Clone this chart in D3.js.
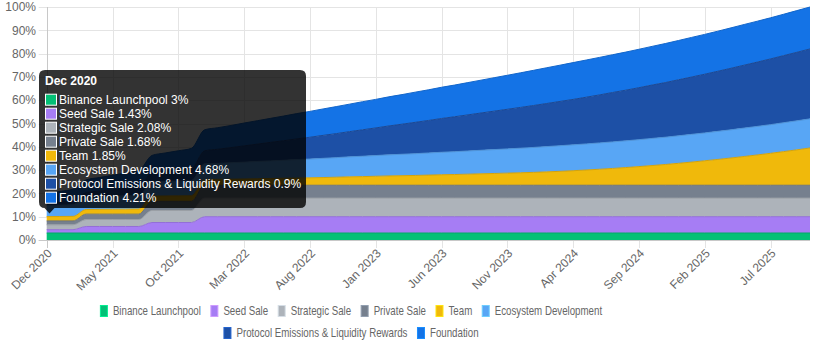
<!DOCTYPE html>
<html>
<head>
<meta charset="utf-8">
<script src="https://cdn.jsdelivr.net/npm/d3@7"></script>
<style>
  body { margin: 0; background: #fff; }
  svg { display: block; font-family: "Liberation Sans", Arial, sans-serif; }
</style>
</head>
<body>
<script>
//width and height
var w = 820;
var h = 350;

//months on the x axis (Dec 2020 .. Oct 2025)
var months = [
  "Dec 2020",
  "Jan 2021", "Feb 2021", "Mar 2021", "Apr 2021", "May 2021", "Jun 2021", "Jul 2021", "Aug 2021", "Sep 2021", "Oct 2021", "Nov 2021", "Dec 2021",
  "Jan 2022", "Feb 2022", "Mar 2022", "Apr 2022", "May 2022", "Jun 2022", "Jul 2022", "Aug 2022", "Sep 2022", "Oct 2022", "Nov 2022", "Dec 2022",
  "Jan 2023", "Feb 2023", "Mar 2023", "Apr 2023", "May 2023", "Jun 2023", "Jul 2023", "Aug 2023", "Sep 2023", "Oct 2023", "Nov 2023", "Dec 2023",
  "Jan 2024", "Feb 2024", "Mar 2024", "Apr 2024", "May 2024", "Jun 2024", "Jul 2024", "Aug 2024", "Sep 2024", "Oct 2024", "Nov 2024", "Dec 2024",
  "Jan 2025", "Feb 2025", "Mar 2025", "Apr 2025", "May 2025", "Jun 2025", "Jul 2025", "Aug 2025", "Sep 2025", "Oct 2025"
];

//tick labels shown on the x axis
var tickLabels = ["Dec 2020", "May 2021", "Oct 2021", "Mar 2022", "Aug 2022", "Jan 2023",
                  "Jun 2023", "Nov 2023", "Apr 2024", "Sep 2024", "Feb 2025", "Jul 2025"];

var yTicks = [0, 10, 20, 30, 40, 50, 60, 70, 80, 90, 100];

//series names, bottom to top
var seriesNames = ["Binance Launchpool", "Seed Sale", "Strategic Sale", "Private Sale", "Team",
                   "Ecosystem Development", "Protocol Emissions & Liquidity Rewards", "Foundation"];

var seriesColors = ["#03c076", "#a67df4", "#adb3ba", "#76808e", "#f0b90b", "#58a6f5", "#1d50a6", "#1473e6"];

//unlocked share of supply (%) per month
var launchpool = [3,3,3,3,3,3,3,3,3,3,3,3,3,3,3,3,3,3,3,3,3,3,3,3,3,3,3,3,3,3,
                  3,3,3,3,3,3,3,3,3,3,3,3,3,3,3,3,3,3,3,3,3,3,3,3,3,3,3,3,3];
var seedSale = [1.43,1.43,1.43,2.8,2.8,2.8,2.8,2.8,4.5,4.5,4.5,4.5,7,7,7,7,7,7,7,7,7,7,7,7,7,7,7,7,7,7,
                7,7,7,7,7,7,7,7,7,7,7,7,7,7,7,7,7,7,7,7,7,7,7,7,7,7,7,7,7];
var strategicSale = [2.08,2.08,2.08,3,3,3,3,3,5.2,5.2,5.2,5.2,8,8,8,8,8,8,8,8,8,8,8,8,8,8,8,8,8,8,
                     8,8,8,8,8,8,8,8,8,8,8,8,8,8,8,8,8,8,8,8,8,8,8,8,8,8,8,8,8];
var privateSale = [1.68,1.68,1.68,2.3,2.3,2.3,2.3,2.3,3.9,3.9,3.9,3.9,5.5,5.5,5.5,5.5,5.5,5.5,5.5,5.5,5.5,5.5,5.5,5.5,5.5,5.5,5.5,5.5,5.5,5.5,
                   5.5,5.5,5.5,5.5,5.5,5.5,5.5,5.5,5.5,5.5,5.5,5.5,5.5,5.5,5.5,5.5,5.5,5.5,5.5,5.5,5.5,5.5,5.5,5.5,5.5,5.5,5.5,5.5,5.5];
var team = [1.85,1.9,1.95,2,2.05,2.1,2.15,2.2,2.25,2.3,2.35,2.4,2.5,2.55,2.6,2.7,2.8,2.9,3,3.1,
            3.2,3.3,3.45,3.6,3.7,3.85,4,4.1,4.2,4.35,4.5,4.6,4.75,4.9,5.05,5.2,5.35,5.53,5.74,5.97,
            6.24,6.54,6.86,7.21,7.6,8.01,8.45,8.91,9.41,9.94,10.5,11.08,11.7,12.34,13.01,13.71,14.44,15.2,16];
var ecosystem = [4.68,4.85,5,5.2,5.35,5.5,5.7,5.85,6,6.2,6.35,6.55,6.7,6.85,7.05,7.2,7.4,7.55,7.7,7.9,
                 8.05,8.25,8.4,8.6,8.75,8.9,9.05,9.2,9.35,9.5,9.65,9.8,9.95,10.1,10.25,10.4,10.55,10.7,10.85,11,
                 11.1,11.2,11.3,11.4,11.45,11.55,11.65,11.7,11.8,11.9,11.95,12.05,12.1,12.2,12.25,12.3,12.4,12.45,12.5];
var protocol = [0.9,1.3,1.7,2.1,2.5,2.85,3.25,3.65,4.05,4.45,4.8,5.2,5.6,6.05,6.5,7,7.45,7.95,8.4,8.9,
                9.35,9.85,10.3,10.8,11.35,11.85,12.4,12.9,13.45,13.95,14.5,15,15.5,16,16.5,17,17.5,18,18.5,19,
                19.5,20.05,20.6,21.2,21.75,22.3,22.9,23.45,24.05,24.6,25.2,25.8,26.4,27,27.6,28.2,28.8,29.4,30];
var foundation = [4.21,4.6,5,5.4,5.8,6.2,6.6,7,7.4,7.8,8.2,8.6,9,9.25,9.5,9.8,10.05,10.3,10.6,10.85,
                  11.1,11.35,11.6,11.8,12.05,12.25,12.5,12.7,12.95,13.15,13.4,13.6,13.85,14.1,14.35,14.6,14.85,15.1,15.35,15.55,
                  15.8,15.95,16.1,16.2,16.35,16.5,16.6,16.75,16.85,17,17.1,17.2,17.35,17.45,17.55,17.65,17.75,17.9,18];

var seriesValues = [launchpool, seedSale, strategicSale, privateSale, team, ecosystem, protocol, foundation];

//build rows for d3.stack
var rows = months.map(function(m, i) {
    var r = { month: m };
    seriesNames.forEach(function(name, k) { r[name] = seriesValues[k][i]; });
    return r;
});

//plot area edges
var plotLeft = 46.7, plotRight = 810, plotTop = 7, plotBottom = 240;

var x = d3.scalePoint()
    .domain(months)
    .range([plotLeft, plotRight]);

var y = d3.scaleLinear()
    .domain([0, 100])
    .range([plotBottom, plotTop]);

var color = d3.scaleOrdinal()
    .domain(seriesNames)
    .range(seriesColors);

var svg = d3.select("body")
    .append("svg")
    .attr("width", w)
    .attr("height", h);

//horizontal grid + y labels
svg.append("g")
    .selectAll("line")
    .data(yTicks)
    .enter()
    .append("line")
    .attr("x1", 38.7)
    .attr("x2", plotRight)
    .attr("y1", function(d) { return Math.round(y(d)) + 0.5; })
    .attr("y2", function(d) { return Math.round(y(d)) + 0.5; })
    .attr("stroke", "#e4e4e4");

svg.append("g")
    .selectAll("text")
    .data(yTicks)
    .enter()
    .append("text")
    .attr("x", 36)
    .attr("y", function(d) { return y(d); })
    .attr("dy", "0.35em")
    .attr("text-anchor", "end")
    .attr("font-size", 12)
    .attr("fill", "#666")
    .text(function(d) { return d + "%"; });

//vertical grid at shown ticks
svg.append("g")
    .selectAll("line")
    .data(tickLabels)
    .enter()
    .append("line")
    .attr("x1", function(d) { return Math.round(x(d)) + 0.5; })
    .attr("x2", function(d) { return Math.round(x(d)) + 0.5; })
    .attr("y1", plotTop)
    .attr("y2", plotBottom + 8)
    .attr("stroke", function(d, i) { return i === 0 ? "#c8c8c8" : "#e4e4e4"; });

//stacked areas
var stack = d3.stack().keys(seriesNames);
var layers = stack(rows);

var area = d3.area()
    .x(function(d) { return x(d.data.month); })
    .y0(function(d) { return y(d[0]); })
    .y1(function(d) { return y(d[1]); })
    .curve(d3.curveMonotoneX);

var topLine = d3.line()
    .x(function(d) { return x(d.data.month); })
    .y(function(d) { return y(d[1]); })
    .curve(d3.curveMonotoneX);

svg.append("g")
    .selectAll("path")
    .data(layers)
    .enter()
    .append("path")
    .attr("d", area)
    .attr("fill", function(d) { return color(d.key); });

svg.append("g")
    .selectAll("path")
    .data(layers)
    .enter()
    .append("path")
    .attr("d", topLine)
    .attr("fill", "none")
    .attr("stroke", function(d) { return d3.color(color(d.key)).darker(0.35); })
    .attr("stroke-width", 1);

//x axis line
svg.append("line")
    .attr("x1", 38.7).attr("x2", plotRight)
    .attr("y1", Math.round(plotBottom) + 0.5).attr("y2", Math.round(plotBottom) + 0.5)
    .attr("stroke", "#c8c8c8");

//x labels, rotated
svg.append("g")
    .selectAll("text")
    .data(tickLabels)
    .enter()
    .append("text")
    .attr("transform", function(d) { return "translate(" + (x(d) + 3) + "," + (plotBottom + 11) + ") rotate(-45)"; })
    .attr("text-anchor", "end")
    .attr("dy", "0.35em")
    .attr("font-size", 12)
    .attr("fill", "#666")
    .text(function(d) { return d; });

//tooltip for Dec 2020
var tip = svg.append("g");
var tx = 39, ty = 70, tw = 267, th = 138, r = 6;
var cx = 49.5;
tip.append("path")
    .attr("d", "M" + (tx + r) + "," + ty +
               "H" + (tx + tw - r) + "Q" + (tx + tw) + "," + ty + " " + (tx + tw) + "," + (ty + r) +
               "V" + (ty + th - r) + "Q" + (tx + tw) + "," + (ty + th) + " " + (tx + tw - r) + "," + (ty + th) +
               "H" + (cx + 5) + "L" + cx + "," + (ty + th + 5.5) + "L" + (cx - 5) + "," + (ty + th) +
               "H" + (tx + r) + "Q" + tx + "," + (ty + th) + " " + tx + "," + (ty + th - r) +
               "V" + (ty + r) + "Q" + tx + "," + ty + " " + (tx + r) + "," + ty + "Z")
    .attr("fill", "rgba(0,0,0,0.8)");

tip.append("text")
    .attr("x", 45)
    .attr("y", 85)
    .attr("font-size", 12)
    .attr("font-weight", "bold")
    .attr("fill", "#fff")
    .text(months[0]);

var tipRows = tip.selectAll("g.row")
    .data(seriesNames)
    .enter()
    .append("g")
    .attr("transform", function(d, i) { return "translate(0," + (99.7 + i * 14) + ")"; });

tipRows.append("rect")
    .attr("x", 45.5).attr("y", -5.5)
    .attr("width", 11).attr("height", 11)
    .attr("fill", function(d) { return color(d); })
    .attr("stroke", "#fff")
    .attr("stroke-width", 1);

tipRows.append("text")
    .attr("x", 59)
    .attr("dy", "0.36em")
    .attr("font-size", 12)
    .attr("fill", "#fff")
    .text(function(d, i) { return d + " " + seriesValues[i][0] + "%"; });

//legend, two centred rows (text is narrow in the original)
var legendRows = [seriesNames.slice(0, 6), seriesNames.slice(6)];
var legendY = [311, 333];
var legendCenter = 351;
var squeeze = 0.81;
legendRows.forEach(function(names, ri) {
    var g = svg.append("g");
    var items = g.selectAll("g")
        .data(names)
        .enter()
        .append("g");
    items.append("rect")
        .attr("x", 0.5)
        .attr("y", -5.5)
        .attr("width", 7).attr("height", 11)
        .attr("fill", function(d) { return color(d); })
        .attr("stroke", function(d) { return d3.color(color(d)).brighter(0.6); })
        .attr("stroke-width", 1);
    items.append("text")
        .attr("transform", "translate(13,0) scale(" + squeeze + ",1)")
        .attr("dy", "0.35em")
        .attr("font-size", 12)
        .attr("fill", "#666")
        .text(function(d) { return d; });
    var pos = 0, starts = [];
    items.each(function() {
        starts.push(pos);
        pos += 13 + d3.select(this).select("text").node().getComputedTextLength() * squeeze + 9.5;
    });
    var total = pos - 9.5;
    var x0 = legendCenter - total / 2;
    items.attr("transform", function(d, i) { return "translate(" + (x0 + starts[i]) + "," + legendY[ri] + ")"; });
});
</script>
</body>
</html>
